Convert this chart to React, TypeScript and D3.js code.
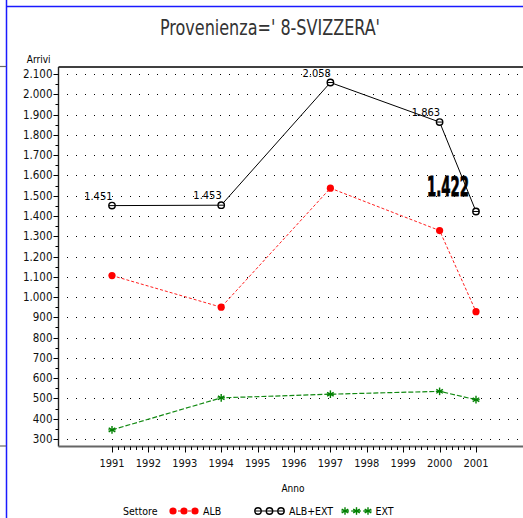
import React from "react";
import * as d3 from "d3";

const years = [1991, 1994, 1997, 2000, 2001];
const albExt = [1451, 1453, 2058, 1863, 1422];
const alb = [1106, 950, 1537, 1328, 928];
const ext = [345, 503, 521, 535, 494];
const yTicks = [300, 400, 500, 600, 700, 800, 900, 1000, 1100, 1200, 1300, 1400, 1500, 1600, 1700, 1800, 1900, 2000, 2100];
const xTicks = [1991, 1992, 1993, 1994, 1995, 1996, 1997, 1998, 1999, 2000, 2001];
const title = "Provenienza=' 8-SVIZZERA'";
const legendItems = ["ALB", "ALB+EXT", "EXT"];

const W = 523;
const H = 518;
const FONT = "'Liberation Sans Narrow', 'DejaVu Sans Condensed', 'Arial Narrow', sans-serif";

const locale = d3.formatLocale({ decimal: ",", thousands: ".", grouping: [3], currency: ["", ""] });
const fmt = locale.format(",d");

const x = d3.scaleLinear().domain([1991, 2001]).range([112, 476]);
const y = d3.scaleLinear().domain([300, 2100]).range([439, 74]);

const AX_L = 58.5;
const AX_B = 446.5;
const AX_T = 67;

function Star({ cx, cy, color }: { cx: number; cy: number; color: string }) {
  const r = 3.8;
  const lines = [0, 60, 120].map((a) => {
    const t = (a * Math.PI) / 180 + Math.PI / 2;
    return (
      <line key={a} x1={cx - r * Math.cos(t)} y1={cy - r * Math.sin(t)} x2={cx + r * Math.cos(t)} y2={cy + r * Math.sin(t)} stroke={color} strokeWidth={1.4} />
    );
  });
  return <g>{lines}<line x1={cx - r} y1={cy} x2={cx + r} y2={cy} stroke={color} strokeWidth={1} /></g>;
}

function OpenCircle({ cx, cy }: { cx: number; cy: number }) {
  return (
    <g>
      <circle cx={cx} cy={cy} r={3.2} fill="white" stroke="black" strokeWidth={1.4} />
      <line x1={cx - 3} y1={cy} x2={cx + 3} y2={cy} stroke="black" strokeWidth={1} />
    </g>
  );
}

function Dot({ cx, cy }: { cx: number; cy: number }) {
  return <circle cx={cx} cy={cy} r={3.6} fill="#ff0000" />;
}

export default function App() {
  const line = d3.line<number>().x((_, i) => x(years[i])).y((d) => y(d));
  const minorX: number[] = [];
  for (let i = 0; i < xTicks.length - 1; i++) {
    for (let k = 1; k < 6; k++) minorX.push(xTicks[i] + k / 6);
  }
  const minorY: number[] = [];
  for (let i = 0; i < yTicks.length - 1; i++) minorY.push(yTicks[i] + 50);

  const legendY = 511;
  const legendMarkers = [
    { label: legendItems[0], xs: [173, 184, 195], tx: 203, color: "#ff0000", dash: "3 2", kind: "dot" },
    { label: legendItems[1], xs: [258, 269.5, 281], tx: 289, color: "black", dash: "", kind: "circle" },
    { label: legendItems[2], xs: [345, 356.5, 368], tx: 375.5, color: "#008000", dash: "4 2", kind: "star" },
  ];
  const crisp = (v: number) => Math.round(v) + 0.5;

  return (
    <svg width={W} height={H} style={{ position: "absolute", left: 0, top: 0, background: "white" }} fontFamily={FONT}>
      <rect x={0} y={0} width={W} height={H} fill="white" />
      {/* frame */}
      <line x1={6.5} y1={0} x2={6.5} y2={H} stroke="#1a1aff" strokeWidth={1.5} />
      <line x1={6.5} y1={6.5} x2={W} y2={6.5} stroke="#1a1aff" strokeWidth={1.5} />
      <line x1={0} y1={66.5} x2={6} y2={66.5} stroke="#666" strokeWidth={1.2} />
      <line x1={0} y1={446} x2={6} y2={446} stroke="#666" strokeWidth={1.2} />

      <text x={270} y={35} textAnchor="middle" fontSize={22} textLength={220} lengthAdjust="spacingAndGlyphs" fill="#333">
        {title}
      </text>

      {/* grid dots */}
      {yTicks.map((t) => (
        <line key={"g" + t} x1={67} y1={crisp(y(t))} x2={W} y2={crisp(y(t))} stroke="black" strokeWidth={1} strokeDasharray="1 8" />
      ))}

      {/* axes */}
      <line x1={AX_L} y1={AX_T} x2={W} y2={AX_T} stroke="black" strokeWidth={1.4} />
      <line x1={AX_L} y1={AX_T} x2={AX_L} y2={AX_B} stroke="#222" strokeWidth={1.4} />
      <line x1={AX_L} y1={AX_B} x2={W} y2={AX_B} stroke="#666" strokeWidth={2} />

      {yTicks.map((t) => (
        <g key={"yt" + t}>
          <line x1={AX_L - 5} y1={crisp(y(t))} x2={AX_L} y2={crisp(y(t))} stroke="black" strokeWidth={1} />
          <text x={AX_L - 6} y={y(t) + 4} textAnchor="end" fontSize={11.5} fill="#111">{fmt(t)}</text>
        </g>
      ))}
      {minorY.map((t) => (
        <line key={"ym" + t} x1={AX_L - 3} y1={crisp(y(t))} x2={AX_L} y2={crisp(y(t))} stroke="black" strokeWidth={1} />
      ))}
      <text x={AX_L - 8} y={63} textAnchor="end" fontSize={10}>Arrivi</text>

      {xTicks.map((t) => (
        <g key={"xt" + t}>
          <line x1={crisp(x(t))} y1={AX_B} x2={crisp(x(t))} y2={AX_B + 6} stroke="black" strokeWidth={1} />
          <text x={x(t)} y={467} textAnchor="middle" fontSize={11} fill="#111">{t}</text>
        </g>
      ))}
      {minorX.map((t, i) => (
        <line key={"xm" + i} x1={crisp(x(t))} y1={AX_B} x2={crisp(x(t))} y2={AX_B + 3.5} stroke="black" strokeWidth={1} />
      ))}
      <text x={293} y={492} textAnchor="middle" fontSize={10}>Anno</text>

      {/* series */}
      <path d={line(alb) || ""} fill="none" stroke="#ff2020" strokeWidth={1} strokeDasharray="3 2" />
      <path d={line(albExt) || ""} fill="none" stroke="black" strokeWidth={1} />
      <path d={line(ext) || ""} fill="none" stroke="#138a13" strokeWidth={1.2} strokeDasharray="5 2" />

      {alb.map((v, i) => <Dot key={"a" + i} cx={x(years[i])} cy={y(v)} />)}
      {albExt.map((v, i) => <OpenCircle key={"b" + i} cx={x(years[i])} cy={y(v)} />)}
      {ext.map((v, i) => <Star key={"c" + i} cx={x(years[i])} cy={y(v)} color="#008000" />)}

      {albExt.map((v, i) =>
        i < albExt.length - 1 ? (
          <text key={"l" + i} x={x(years[i]) + 0.5} y={y(v) - 6} textAnchor="end" fontSize={11}>{fmt(v)}</text>
        ) : (
          <text key={"l" + i} x={x(years[i]) - 7} y={y(v) - 15} textAnchor="end" fontSize={26} fontWeight="bold" stroke="black" strokeWidth={0.8} textLength={42} lengthAdjust="spacingAndGlyphs">{fmt(v)}</text>
        )
      )}

      {/* legend */}
      <text x={123} y={legendY + 4} fontSize={10.5}>Settore</text>
      {legendMarkers.map((m) => (
        <g key={m.label}>
          <line x1={m.xs[0]} y1={legendY} x2={m.xs[2]} y2={legendY} stroke={m.color} strokeWidth={1} strokeDasharray={m.dash || undefined} />
          {m.xs.map((px, j) =>
            m.kind === "dot" ? <Dot key={j} cx={px} cy={legendY} /> : m.kind === "circle" ? <OpenCircle key={j} cx={px} cy={legendY} /> : <Star key={j} cx={px} cy={legendY} color="#008000" />
          )}
          <text x={m.tx} y={legendY + 4} fontSize={10.5}>{m.label}</text>
        </g>
      ))}
    </svg>
  );
}
